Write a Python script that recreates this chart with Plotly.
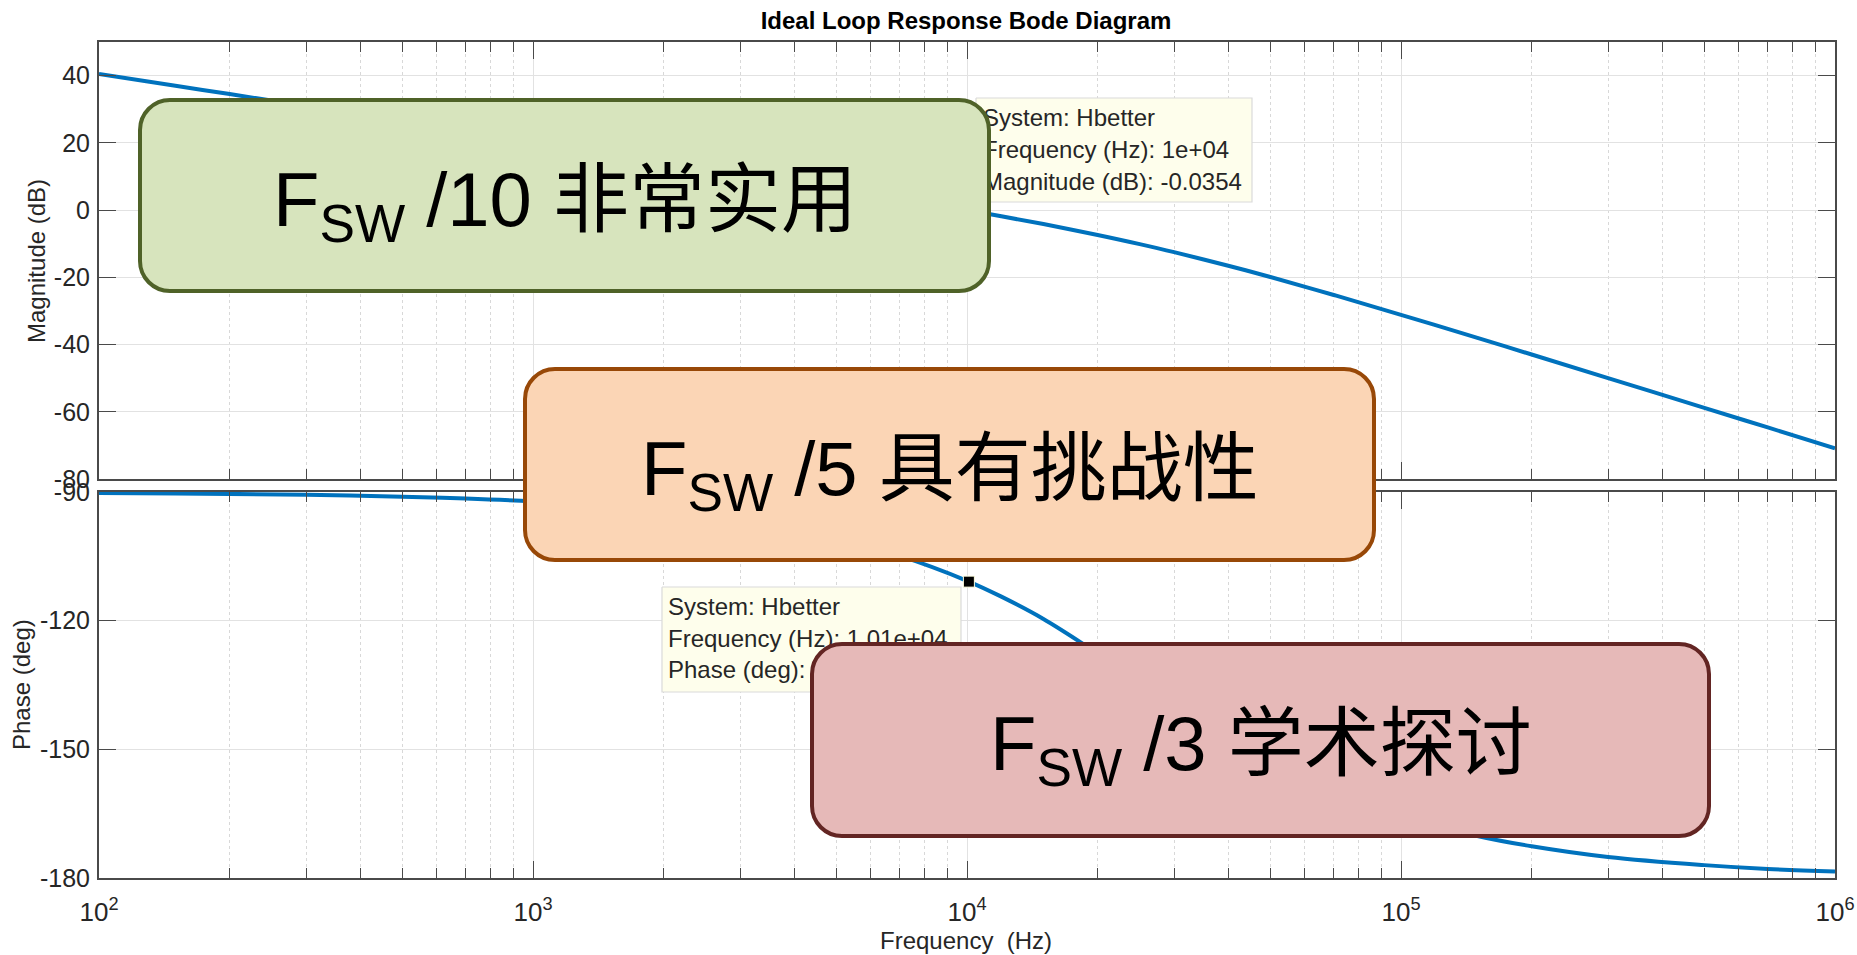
import plotly.graph_objects as go

# ---- Loop response samples (system "Hbetter") ----
freq_hz = [100, 150, 200, 300, 500, 700, 1000, 1500, 2000, 3000, 5000, 7000,
           10000, 12000, 15000, 20000, 25000, 30000, 40000, 50000, 70000,
           100000, 150000, 200000, 300000, 500000, 700000, 1000000]
magnitude_db = [40.52, 37.00, 34.50, 30.98, 26.54, 23.62, 20.51, 16.99, 14.48, 10.93, 6.39, 3.34,
                -0.035, -1.84, -4.17, -7.40, -10.13, -12.51, -16.56, -19.92, -25.26,
                -31.16, -38.03, -42.97, -49.97, -58.83, -64.66, -70.86]
phase_deg = [-90.22, -90.33, -90.44, -90.66, -91.10, -91.54, -92.20, -93.30, -94.40, -96.58, -100.89, -104.9,
             -110.7, -114.4, -119.6, -127.6, -133.9, -139.1, -147.0, -152.5, -159.6,
             -165.4, -170.2, -172.6, -175.1, -177.0, -177.9, -178.5]

# Data cursor readouts
cursor_mag_freq, cursor_mag_value = 1.0e4, -0.0354
cursor_phase_freq, cursor_phase_value = 1.01e4, -110.9

# Axis ticks
x_tick_vals = [1e2, 1e3, 1e4, 1e5, 1e6]
x_tick_text = ["10<sup>2</sup>", "10<sup>3</sup>", "10<sup>4</sup>", "10<sup>5</sup>", "10<sup>6</sup>"]
mag_ticks = [-80, -60, -40, -20, 0, 20, 40]
phase_ticks = [-180, -150, -120, -90]

# Bandwidth rule-of-thumb call-outs
zone_labels = ["F<sub>SW</sub> /10 非常实用",
               "F<sub>SW</sub> /5 具有挑战性",
               "F<sub>SW</sub> /3 学术探讨"]

# ---- Page geometry (pixels) ----
W, H = 1857, 955
L, R, T, B = 99, 1835, 42, 878
TOP_BOTTOM, BOT_TOP = 479, 492


def px(x):
    return (x - L) / (R - L)


def py(y):
    return (B - y) / (B - T)


def rounded_rect(x0, y0, x1, y1, r):
    c = r * 0.5523
    return (
        f"M {x0 + r},{y0} L {x1 - r},{y0} "
        f"C {x1 - r + c},{y0} {x1},{y0 + r - c} {x1},{y0 + r} "
        f"L {x1},{y1 - r} "
        f"C {x1},{y1 - r + c} {x1 - r + c},{y1} {x1 - r},{y1} "
        f"L {x0 + r},{y1} "
        f"C {x0 + r - c},{y1} {x0},{y1 - r + c} {x0},{y1 - r} "
        f"L {x0},{y0 + r} "
        f"C {x0},{y0 + r - c} {x0 + r - c},{y0} {x0 + r},{y0} Z"
    )


AX_COLOR = "#4a4a4a"
TXT_COLOR = "#262626"
LINE_BLUE = "#0072BD"
FONT = "Liberation Sans, Arial, Noto Sans CJK SC, sans-serif"

minor_vals = [m * 10 ** d for d in range(2, 6) for m in range(2, 10)]

fig = go.Figure()

# Magnitude and phase curves
fig.add_trace(go.Scatter(x=freq_hz, y=magnitude_db, mode="lines", xaxis="x", yaxis="y",
                         line=dict(color=LINE_BLUE, width=4, shape="spline", smoothing=1.0),
                         hoverinfo="skip", showlegend=False))
fig.add_trace(go.Scatter(x=freq_hz, y=phase_deg, mode="lines", xaxis="x2", yaxis="y2",
                         line=dict(color=LINE_BLUE, width=4, shape="spline", smoothing=1.0),
                         hoverinfo="skip", showlegend=False))

# Cursor markers
fig.add_trace(go.Scatter(x=[cursor_mag_freq], y=[cursor_mag_value], mode="markers", xaxis="x", yaxis="y",
                         marker=dict(symbol="square", size=11, color="black",
                                     line=dict(color="#ffffe1", width=1)),
                         hoverinfo="skip", showlegend=False))
fig.add_trace(go.Scatter(x=[cursor_phase_freq], y=[cursor_phase_value], mode="markers", xaxis="x2", yaxis="y2",
                         marker=dict(symbol="square", size=11, color="black",
                                     line=dict(color="#ffffe1", width=1)),
                         hoverinfo="skip", showlegend=False))

# Data-tip panels drawn on a pixel-space overlay so they cover the grid
tips = [
    dict(box=(976, 98, 1252, 202), x=983, ys=[120, 152, 184],
         lines=["System: Hbetter",
                "Frequency (Hz): 1e+04",
                f"Magnitude (dB): {cursor_mag_value}"]),
    dict(box=(662, 587, 961, 692), x=668, ys=[609, 641, 672],
         lines=["System: Hbetter",
                f"Frequency (Hz): {cursor_phase_freq:.2e}",
                f"Phase (deg): {cursor_phase_value:.0f}"]),
]
for tip in tips:
    x0, y0, x1, y1 = tip["box"]
    fig.add_trace(go.Scatter(x=[x0, x1, x1, x0, x0], y=[y0, y0, y1, y1, y0], mode="lines",
                             fill="toself", fillcolor="#fefeec",
                             line=dict(color="#dadada", width=1.2),
                             xaxis="x3", yaxis="y3", hoverinfo="skip", showlegend=False))
    fig.add_trace(go.Scatter(x=[tip["x"]] * 3, y=tip["ys"], mode="text", text=tip["lines"],
                             textposition="middle right",
                             textfont=dict(family=FONT, size=24, color=TXT_COLOR),
                             xaxis="x3", yaxis="y3", hoverinfo="skip", showlegend=False,
                             cliponaxis=False))

# Rounded call-out boxes
boxes = [
    dict(rect=(140, 100, 989, 291), fill="#d7e4bd", edge="#4f6228"),
    dict(rect=(525, 369, 1374, 560), fill="#fbd5b5", edge="#984807"),
    dict(rect=(812, 644, 1709, 836), fill="#e6b9b8", edge="#632523"),
]
shapes = []
annotations = []
for box, label in zip(boxes, zone_labels):
    x0, y0, x1, y1 = box["rect"]
    shapes.append(dict(type="path", path=rounded_rect(x0, y0, x1, y1, 30), xref="x3", yref="y3",
                       fillcolor=box["fill"], line=dict(color=box["edge"], width=4), layer="above"))
    annotations.append(dict(text=label, x=(x0 + x1) / 2, y=(y0 + y1) / 2 + 9, xref="x3", yref="y3",
                            showarrow=False, xanchor="center", yanchor="middle",
                            font=dict(family=FONT, size=76, color="black")))

# Axis titles
annotations += [
    dict(text="Magnitude (dB)", x=px(36), y=py(261), xref="paper", yref="paper", textangle=-90,
         showarrow=False, xanchor="center", yanchor="middle", font=dict(family=FONT, size=24, color=TXT_COLOR)),
    dict(text="Phase (deg)", x=px(21), y=py(685), xref="paper", yref="paper", textangle=-90,
         showarrow=False, xanchor="center", yanchor="middle", font=dict(family=FONT, size=24, color=TXT_COLOR)),
    dict(text="Frequency\u00a0 (Hz)", x=px(966), y=py(941), xref="paper", yref="paper",
         showarrow=False, xanchor="center", yanchor="middle", font=dict(family=FONT, size=24, color=TXT_COLOR)),
]

x_common = dict(type="log", range=[2, 6], tickmode="array", tickvals=x_tick_vals, ticktext=x_tick_text,
                ticks="inside", ticklen=17, tickwidth=1.2, tickcolor=AX_COLOR,
                showline=True, linecolor=AX_COLOR, linewidth=2, mirror="ticks",
                showgrid=True, gridcolor="#e2e2e2", gridwidth=1, zeroline=False,
                minor=dict(tickmode="array", tickvals=minor_vals, ticks="inside", ticklen=10,
                           tickwidth=1.2, tickcolor=AX_COLOR, showgrid=True,
                           gridcolor="#d8d8d8", griddash="dot", gridwidth=1),
                tickfont=dict(family=FONT, size=26, color=TXT_COLOR), fixedrange=True,
                automargin=False)
y_common = dict(ticks="inside", ticklen=17, tickwidth=1.2, tickcolor=AX_COLOR,
                showline=True, linecolor=AX_COLOR, linewidth=2, mirror="ticks",
                showgrid=True, gridcolor="#e2e2e2", gridwidth=1, zeroline=False,
                tickfont=dict(family=FONT, size=25, color=TXT_COLOR), ticklabelstandoff=2,
                tickmode="array", fixedrange=True, automargin=False)

fig.update_layout(
    width=W, height=H, autosize=False,
    margin=dict(l=L, r=W - R, t=T, b=H - B, pad=0, autoexpand=False),
    paper_bgcolor="white", plot_bgcolor="rgba(0,0,0,0)",
    font=dict(family=FONT, color=TXT_COLOR),
    title=dict(text="<b>Ideal Loop Response Bode Diagram</b>", x=px(966), xref="paper",
               y=1 - 21 / H, yref="container", xanchor="center", yanchor="middle",
               font=dict(family=FONT, size=24, color="#000000")),
    xaxis=dict(x_common, anchor="y", showticklabels=False),
    yaxis=dict(y_common, domain=[py(TOP_BOTTOM), 1], range=[-80, 50], tickvals=mag_ticks,
               ticktext=[str(v) for v in mag_ticks], anchor="x"),
    xaxis2=dict(x_common, anchor="y2", showticklabels=True, ticklabelstandoff=10),
    yaxis2=dict(y_common, domain=[0, py(BOT_TOP)], range=[-180, -90], tickvals=phase_ticks,
                ticktext=[str(v) for v in phase_ticks], anchor="x2"),
    xaxis3=dict(domain=[0, 1], range=[L, R], visible=False, anchor="y3", fixedrange=True),
    yaxis3=dict(domain=[0, 1], range=[B, T], visible=False, anchor="x3", fixedrange=True),
    shapes=shapes,
    annotations=annotations,
)

fig.write_html("out.html")
